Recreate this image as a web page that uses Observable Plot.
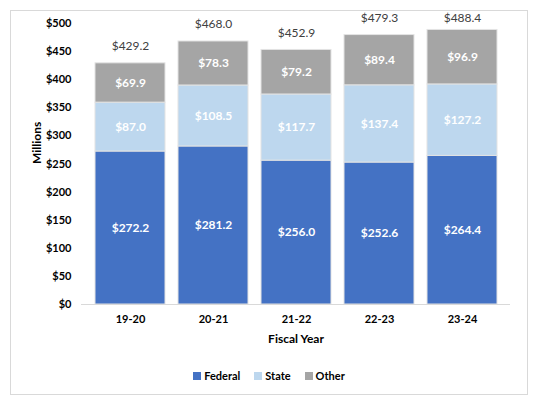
<!DOCTYPE html>
<html>
<head>
<meta charset="utf-8">
<script src="https://cdn.jsdelivr.net/npm/d3@7"></script>
<script src="https://cdn.jsdelivr.net/npm/@observablehq/plot@0.6"></script>
<style>
  body { margin: 0; background: #fff; font-family: Lato, "Open Sans", sans-serif; }
  #frame { position: absolute; left: 10px; top: 10px; width: 518px; height: 385px; border: 1px solid #d9d9d9; box-sizing: border-box; }
  #chart svg { overflow: visible; }
  #legend { display: flex; justify-content: center; gap: 14px; margin-top: 13px; font-size: 11px; font-weight: bold; color: #000; }
  #legend span.sw { display: inline-block; width: 8px; height: 8px; margin-right: 3px; vertical-align: 0px; }
</style>
</head>
<body>
<div id="frame"><div id="chart"></div><div id="legend"></div></div>
<script>
const years = ["19-20", "20-21", "21-22", "22-23", "23-24"];
const federal = [272.2, 281.2, 256.0, 252.6, 264.4];
const state = [87.0, 108.5, 117.7, 137.4, 127.2];
const other = [69.9, 78.3, 79.2, 89.4, 96.9];
const totals = [429.2, 468.0, 452.9, 479.3, 488.4];
const seriesNames = ["Federal", "State", "Other"];
const colors = ["#4472C4", "#BDD7EE", "#A5A5A5"];
const yTicks = [0, 50, 100, 150, 200, 250, 300, 350, 400, 450, 500];

const seriesValues = [federal, state, other];
const rows = [];
seriesNames.forEach((s, si) => years.forEach((y, i) => rows.push({year: y, series: s, value: seriesValues[si][i]})));
const totalRows = years.map((y, i) => ({year: y, total: totals[i]}));

const fmt = v => "$" + v.toFixed(1);

const plot = Plot.plot({
  width: 516,
  height: 345,
  marginTop: 12,
  marginBottom: 52,
  marginLeft: 70,
  marginRight: 17,
  clip: false,
  style: {fontFamily: "Lato, 'Open Sans', sans-serif", fontSize: "11px", background: "transparent", overflow: "visible"},
  x: {domain: years, padding: 0.16, label: null},
  y: {domain: [0, 500], ticks: yTicks, label: null},
  color: {domain: seriesNames, range: colors},
  marks: [
    Plot.barY(rows, Plot.stackY({x: "year", y: "value", fill: "series", order: seriesNames, stroke: "#e3e3e3", strokeWidth: 1})),
    Plot.ruleY([0], {stroke: "#d9d9d9"}),
    Plot.text(rows, Plot.stackY({x: "year", y: "value", z: "series", order: seriesNames, text: d => fmt(d.value), fill: "white", fontWeight: "bold", fontSize: 12})),
    // total labels sit ~17px above each bar, kept inside the chart area like the original
    Plot.text(totalRows, {x: "year", y: d => Math.min(d.total + 30, 509), text: d => fmt(d.total), fill: "#404040", fontSize: 12}),
    Plot.axisY({ticks: yTicks, tickSize: 0, tickPadding: 10, tickFormat: d => "$" + d, fontWeight: "bold", fontSize: 11, fill: "#000"}),
    Plot.axisX({tickSize: 0, tickPadding: 11, fontWeight: "bold", fontSize: 11, fill: "#000"}),
    Plot.text(["Millions"], {frameAnchor: "left", rotate: -90, dx: -44, fontWeight: "bold", fontSize: 12, fill: "#000"}),
    Plot.text(["Fiscal Year"], {frameAnchor: "bottom", dy: 38, fontWeight: "bold", fontSize: 12, fill: "#000"})
  ]
});
document.getElementById("chart").appendChild(plot);

const legend = document.getElementById("legend");
seriesNames.forEach((s, i) => {
  const item = document.createElement("div");
  const sw = document.createElement("span");
  sw.className = "sw";
  sw.style.background = colors[i];
  item.appendChild(sw);
  item.appendChild(document.createTextNode(s));
  legend.appendChild(item);
});
</script>
</body>
</html>
